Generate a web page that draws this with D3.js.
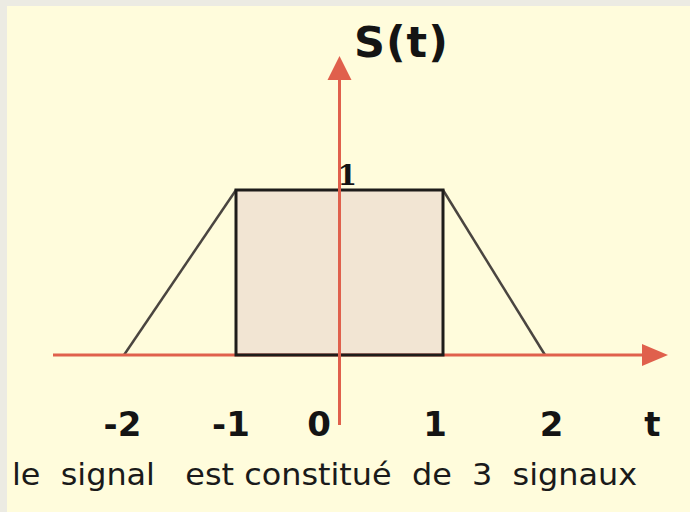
<!DOCTYPE html>
<html>
<head>
<meta charset="utf-8">
<script src="https://cdn.jsdelivr.net/npm/d3@7"></script>
<style>
  body { margin: 0; background: #ecebe3; }
  svg { display: block; }
</style>
</head>
<body>
<div id="chart"></div>
<script>
// signal S(t): trapezoid made of a ramp, a rectangle and a ramp
const tPoints = [-2, -1, 1, 2];
const sPoints = [0, 1, 1, 0];
const rectT = [-1, 1];
const rectS = 1;
const tickValues = [-2, -1, 0, 1, 2];
const tickLabels = ["-2", "-1", "0", "1", "2"];
const yTickLabel = "1";
const yTitle = "S(t)";
const xTitle = "t";
const caption = "le  signal   est constitué  de  3  signaux";

const width = 690, height = 512;
const axisColor = "#e0604c";

const svg = d3.select("#chart").append("svg")
  .attr("width", width)
  .attr("height", height);

// cream panel
svg.append("rect")
  .attr("x", 7).attr("y", 6)
  .attr("width", width - 7).attr("height", height - 6)
  .attr("fill", "#fffcdc");

// the drawing is not quite evenly spaced, hence the piecewise scale
const x = d3.scaleLinear().domain([-2, -1, 0, 1, 2]).range([124, 236, 339.5, 443, 545]);
const y = d3.scaleLinear().domain([0, 1]).range([355, 190]);

// rectangle part
svg.append("rect")
  .attr("x", x(rectT[0]))
  .attr("y", y(rectS))
  .attr("width", x(rectT[1]) - x(rectT[0]))
  .attr("height", y(0) - y(rectS))
  .attr("fill", "#f2e5d3");

// ramps
const line = d3.line().x(d => x(d[0])).y(d => y(d[1]));
svg.append("path")
  .datum(d3.zip(tPoints.slice(0, 2), sPoints.slice(0, 2)))
  .attr("d", line)
  .attr("fill", "none")
  .attr("stroke", "#4a4540")
  .attr("stroke-width", 2.5);
svg.append("path")
  .datum(d3.zip(tPoints.slice(2), sPoints.slice(2)))
  .attr("d", line)
  .attr("fill", "none")
  .attr("stroke", "#4a4540")
  .attr("stroke-width", 2.5);

// x axis with arrow
const x0 = y(0);
svg.append("line")
  .attr("x1", 53).attr("x2", 645)
  .attr("y1", x0).attr("y2", x0)
  .attr("stroke", axisColor).attr("stroke-width", 3);
svg.append("path")
  .attr("d", `M642,${x0 - 11}L668,${x0}L642,${x0 + 11}Z`)
  .attr("fill", axisColor);

// rectangle outline (drawn over x axis)
svg.append("rect")
  .attr("x", x(rectT[0]))
  .attr("y", y(rectS))
  .attr("width", x(rectT[1]) - x(rectT[0]))
  .attr("height", y(0) - y(rectS))
  .attr("fill", "none")
  .attr("stroke", "#1e1c1a")
  .attr("stroke-width", 3);

// y axis with arrow
const xc = x(0);
svg.append("line")
  .attr("x1", xc).attr("x2", xc)
  .attr("y1", 425).attr("y2", 80)
  .attr("stroke", axisColor).attr("stroke-width", 3);
svg.append("path")
  .attr("d", `M${xc - 12},80L${xc},56L${xc + 12},80Z`)
  .attr("fill", axisColor);

// tick labels (shifted a little like in the original drawing)
const labelShift = [-1.5, -5, -20.5, -8, 6.5];
svg.selectAll(".tick")
  .data(tickValues)
  .enter()
  .append("text")
  .attr("x", (d, i) => x(d) + labelShift[i])
  .attr("y", 436)
  .attr("text-anchor", "middle")
  .attr("font-family", "DejaVu Sans")
  .attr("font-weight", "bold")
  .attr("font-size", 34)
  .attr("fill", "#141414")
  .text((d, i) => tickLabels[i]);

svg.append("text")
  .attr("x", 652.5).attr("y", 436)
  .attr("text-anchor", "middle")
  .attr("font-family", "DejaVu Sans")
  .attr("font-weight", "bold")
  .attr("font-size", 34)
  .attr("fill", "#141414")
  .text(xTitle);

svg.append("text")
  .attr("x", xc - 2).attr("y", y(1) - 5)
  .attr("font-family", "DejaVu Serif")
  .attr("font-weight", "bold")
  .attr("font-size", 28)
  .attr("fill", "#141414")
  .text(yTickLabel);

svg.append("text")
  .attr("x", 354).attr("y", 57)
  .attr("font-family", "DejaVu Sans")
  .attr("font-weight", "bold")
  .attr("font-size", 43)
  .attr("letter-spacing", 1)
  .attr("fill", "#141414")
  .text(yTitle);

svg.append("text")
  .attr("x", 12).attr("y", 485)
  .attr("font-family", "DejaVu Sans")
  .attr("font-size", 31)
  .attr("textLength", 625)
  .attr("lengthAdjust", "spacingAndGlyphs")
  .attr("fill", "#1a1a1a")
  .attr("xml:space", "preserve")
  .style("white-space", "pre")
  .text(caption);
</script>
</body>
</html>
